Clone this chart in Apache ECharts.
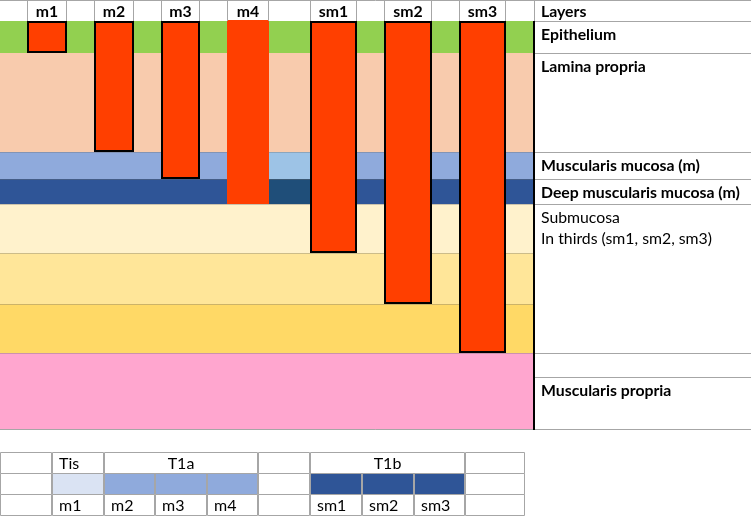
<!DOCTYPE html>
<html><head><meta charset="utf-8">
<script src="https://cdn.jsdelivr.net/npm/echarts@6/dist/echarts.min.js"></script>
<style>html,body{margin:0;padding:0;background:#fff}#c{width:751px;height:518px}</style>
</head><body><div id="c"></div>
<script>
// ---------------- data ----------------
const categories = ['m1', 'm2', 'm3', 'm4', 'sm1', 'sm2', 'sm3'];
const invasionDepth = [32, 131, 158, 183, 232, 283, 332];
const layerNames = ['Epithelium', 'Lamina propria', 'Muscularis mucosa (m)', 'Deep muscularis mucosa (m)',
  'Submucosa sm1', 'Submucosa sm2', 'Submucosa sm3', 'Muscularis propria'];
const layerThickness = [32, 99, 27, 25, 49, 51, 49, 77];
const tableRowLabels = ['Layers', 'Epithelium', 'Lamina propria', 'Muscularis mucosa (m)',
  'Deep muscularis mucosa (m)', 'Submucosa\nIn thirds (sm1, sm2, sm3)', '', 'Muscularis propria'];
const tableRowBounds = [-21, 0, 32, 131, 158, 183, 332, 356, 409];
const stageLabels = ['', 'Tis', 'T1a', '', 'T1b', ''];
const stageSpans = [1, 1, 3, 1, 3, 1];
const subStageLabels = ['', 'm1', 'm2', 'm3', 'm4', '', 'sm1', 'sm2', 'sm3', ''];

// ---------------- layout & style ----------------
const BAR_EDGES = [[27, 67], [94, 134], [161, 200], [227, 269], [310, 357], [384, 432], [459, 506]];
const BAR_BORDER = [true, true, true, false, true, true, true];
const DIAGRAM_RIGHT = 534, TABLE_RIGHT = 751;
const LAYER_COLORS = ['#92D050', '#F8CBAD', '#8FAADC', '#2F5597', '#FFF2CC', '#FFE699', '#FFD966', '#FFA6CF'];
const PATCH_X = [269, 310], PATCH_COLORS = {2: '#9DC3E6', 3: '#1F4E79'};
const ROW_BOLD = [true, true, true, true, true, false, true, true];
const TABLE_COLS = [0, 52, 104, 155, 207, 258, 310, 362, 414, 465, 525];
const STAGE_FILL = ['#fff', '#DAE3F3', '#8FAADC', '#8FAADC', '#8FAADC', '#fff', '#2F5597', '#2F5597', '#2F5597', '#fff'];
const GRID_LINE = '#A6A6A6';
const FONT = 'Lato, "Open Sans", sans-serif';
const LABEL_SIZE = 15.8, TABLE_SIZE = 16;
const RED = '#FF3F00';

function txt(text, x, y, opt) {
  opt = opt || {};
  return {type: 'text', style: {
    text: text, x: x, y: y, fill: '#000',
    fontFamily: FONT, fontSize: opt.size || LABEL_SIZE, fontWeight: opt.bold ? 'bold' : 'normal',
    align: opt.align || 'left', textAlign: opt.align || 'left',
    verticalAlign: opt.va || 'middle', textVerticalAlign: opt.va || 'middle',
    lineHeight: opt.lh || 21
  }};
}
function hline(x1, x2, y, c, w) {
  return {type: 'line', shape: {x1: x1, y1: y, x2: x2, y2: y}, style: {stroke: c || GRID_LINE, lineWidth: w || 1}};
}
function vline(x, y1, y2, c, w) {
  return {type: 'line', shape: {x1: x, y1: y1, x2: x, y2: y2}, style: {stroke: c || GRID_LINE, lineWidth: w || 1}};
}

// layer bands
const layerData = [];
let acc = 0;
layerThickness.forEach((t, i) => { layerData.push([i, acc, acc + t]); acc += t; });

const option = {
  animation: false,
  grid: [
    {left: 0, top: 0, width: 751, height: 430},
    {left: 0, top: 452, width: 525, height: 63}
  ],
  xAxis: [
    {type: 'value', gridIndex: 0, min: 0, max: TABLE_RIGHT, show: false},
    {type: 'value', gridIndex: 1, min: 0, max: 525, show: false}
  ],
  yAxis: [
    {type: 'value', gridIndex: 0, min: -21, max: 409, inverse: true, show: false},
    {type: 'value', gridIndex: 1, min: 0, max: 3, inverse: true, show: false}
  ],
  series: [
    { // tissue layers
      type: 'custom', name: 'layers', xAxisIndex: 0, yAxisIndex: 0, silent: true, clip: false,
      data: layerData,
      renderItem: function (params, api) {
        const i = api.value(0), s = api.value(1), e = api.value(2);
        const a = api.coord([0, s]), b = api.coord([DIAGRAM_RIGHT, e]);
        const ch = [{type: 'rect', shape: {x: a[0], y: a[1], width: b[0] - a[0], height: b[1] - a[1]},
          style: {fill: LAYER_COLORS[i]}}];
        if (PATCH_COLORS[i]) {
          const p = api.coord([PATCH_X[0], s]), q = api.coord([PATCH_X[1], e]);
          ch.push({type: 'rect', shape: {x: p[0], y: p[1], width: q[0] - p[0], height: q[1] - p[1]},
            style: {fill: PATCH_COLORS[i]}});
        }
        if (i > 1) ch.push(hline(a[0], b[0], Math.round(a[1]) + 0.5, 'rgba(110,110,110,0.35)', 1));
        return {type: 'group', children: ch};
      }
    },
    { // invasion bars
      type: 'custom', name: 'invasion', xAxisIndex: 0, yAxisIndex: 0, silent: true, clip: false,
      data: invasionDepth.map((d, i) => [i, d]),
      renderItem: function (params, api) {
        const i = api.value(0), d = api.value(1);
        const a = api.coord([BAR_EDGES[i][0], 0]), b = api.coord([BAR_EDGES[i][1], d]);
        if (BAR_BORDER[i]) {
          return {type: 'rect', shape: {x: a[0] + 1, y: a[1] + 1, width: b[0] - a[0] - 2, height: b[1] - a[1] - 2},
            style: {fill: RED, stroke: '#000', lineWidth: 2}};
        }
        return {type: 'rect', shape: {x: a[0], y: a[1] - 1, width: b[0] - a[0], height: b[1] - a[1] + 1},
          style: {fill: RED}};
      }
    },
    { // header labels over the bars
      type: 'custom', name: 'header', xAxisIndex: 0, yAxisIndex: 0, silent: true, clip: false,
      data: categories.map((c, i) => [i]),
      renderItem: function (params, api) {
        const i = api.value(0);
        const a = api.coord([BAR_EDGES[i][0], -21]), b = api.coord([BAR_EDGES[i][1], 0]);
        return {type: 'group', children: [
          vline(Math.round(a[0]) + 0.5, a[1], b[1]),
          vline(Math.round(b[0]) - 0.5, a[1], b[1]),
          txt(categories[i], (a[0] + b[0]) / 2, (a[1] + b[1]) / 2 + 1.5, {bold: true, align: 'center'})
        ]};
      }
    },
    { // layer table on the right
      type: 'custom', name: 'layerTable', xAxisIndex: 0, yAxisIndex: 0, silent: true, clip: false,
      data: tableRowLabels.map((l, i) => [i, tableRowBounds[i], tableRowBounds[i + 1]]),
      renderItem: function (params, api) {
        const i = api.value(0), s = api.value(1), e = api.value(2);
        const a = api.coord([DIAGRAM_RIGHT, s]), b = api.coord([TABLE_RIGHT, e]);
        const ch = [];
        const yt = Math.round(a[1]) + 0.5;
        if (i === 0) ch.push(hline(0, b[0], yt));
        else ch.push(hline(a[0], b[0], yt));
        if (i === tableRowLabels.length - 1) ch.push(hline(0, b[0], Math.round(b[1]) - 0.5));
        if (i === 0) ch.push(vline(Math.round(a[0]) + 0.5, a[1], b[1]));
        else ch.push(vline(Math.round(a[0]), a[1], b[1], '#000', 2));
        if (tableRowLabels[i]) {
          if (i === 0) ch.push(txt(tableRowLabels[i], a[0] + 7, (a[1] + b[1]) / 2 + 1.5, {bold: true}));
          else ch.push(txt(tableRowLabels[i], a[0] + 7, a[1] + 3, {bold: ROW_BOLD[i], va: 'top', lh: 21}));
        }
        return {type: 'group', children: ch};
      }
    },
    { // staging table at the bottom
      type: 'custom', name: 'stageTable', xAxisIndex: 1, yAxisIndex: 1, silent: true, clip: false,
      data: [[0], [1], [2]],
      renderItem: function (params, api) {
        const r = api.value(0);
        const ch = [];
        function cell(c0, c1, fill, label, align) {
          const a = api.coord([TABLE_COLS[c0], r]), b = api.coord([TABLE_COLS[c1], r + 1]);
          const x0 = Math.round(a[0]) + 0.5, y0 = Math.round(a[1]) + 0.5;
          const x1 = Math.round(b[0]) - 0.5, y1 = Math.round(b[1]) + 0.5;
          ch.push({type: 'rect', shape: {x: x0, y: y0, width: x1 - x0, height: y1 - y0},
            style: {fill: fill, stroke: GRID_LINE, lineWidth: 1}});
          if (label) {
            const cx = align === 'center' ? (a[0] + b[0]) / 2 : a[0] + 7;
            ch.push(txt(label, cx, (a[1] + b[1]) / 2 + 1, {align: align, size: TABLE_SIZE}));
          }
        }
        if (r === 0) {
          let c = 0;
          stageLabels.forEach((l, k) => {
            cell(c, c + stageSpans[k], '#fff', l, stageSpans[k] > 1 ? 'center' : 'left');
            c += stageSpans[k];
          });
        } else if (r === 1) {
          for (let c = 0; c < 10; c++) cell(c, c + 1, STAGE_FILL[c], '', 'left');
        } else {
          subStageLabels.forEach((l, c) => cell(c, c + 1, '#fff', l, 'left'));
        }
        return {type: 'group', children: ch};
      }
    }
  ]
};
const chart = echarts.init(document.getElementById('c'), null, {renderer: 'canvas'});
chart.setOption(option);
</script>
</body></html>
